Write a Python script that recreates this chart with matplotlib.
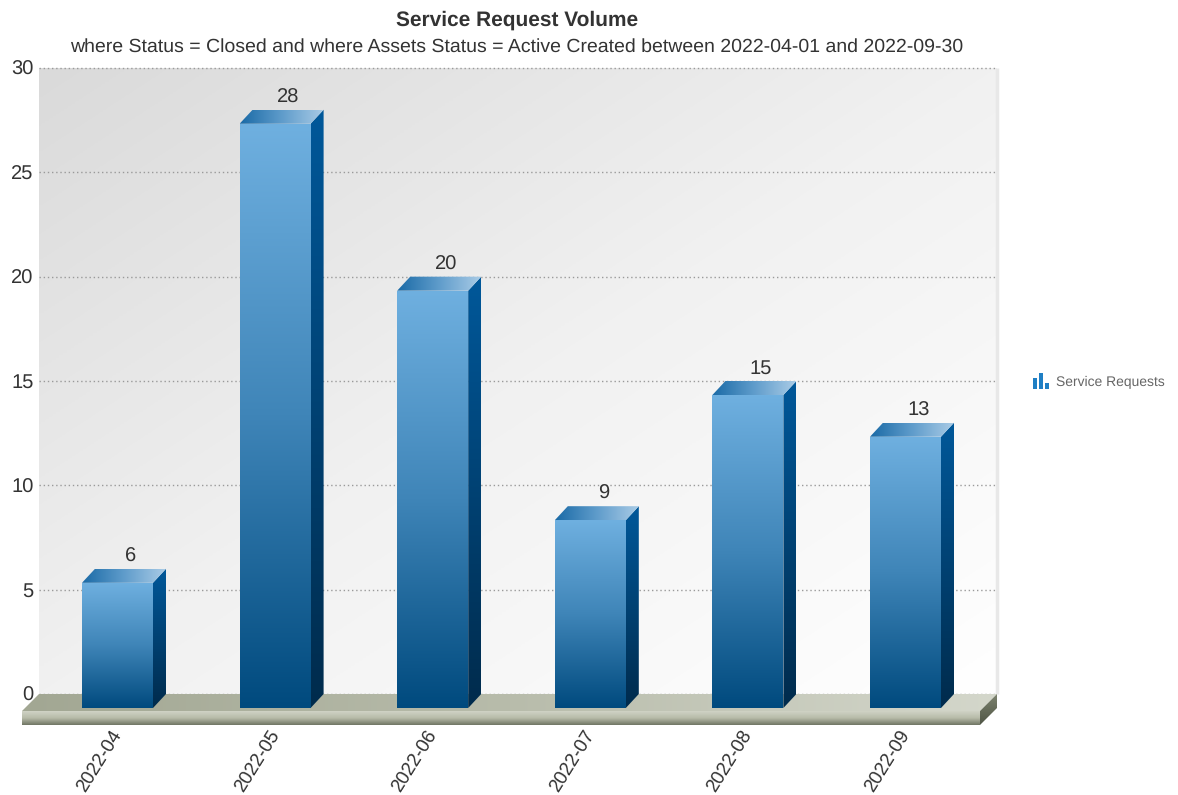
from __future__ import annotations

import numpy as np
import matplotlib

matplotlib.use("Agg")
import matplotlib.pyplot as plt
from matplotlib.colors import LinearSegmentedColormap
from matplotlib.patches import Polygon, Rectangle

months = ["2022-04", "2022-05", "2022-06", "2022-07", "2022-08", "2022-09"]
service_requests = [6, 28, 20, 9, 15, 13]
y_ticks = [0, 5, 10, 15, 20, 25, 30]

W, H = 1178, 795
PX_X = 157.6  # pixels per category
PX_Y = 626 / 30  # pixels per request
DEPTH_X = 13 / PX_X
DEPTH_Y = 14 / PX_Y
BAR_W = 71 / PX_X

plt.rcParams["font.family"] = ["Liberation Sans", "DejaVu Sans"]
plt.rcParams["text.hinting"] = "no_hinting"

fig = plt.figure(figsize=(W / 100, H / 100), dpi=100, facecolor="white")
ax = fig.add_axes([39 / W, 1 - 694 / H, 958 / W, 626 / H])
ax.set_xlim((39 - 117.5) / PX_X, (997 - 117.5) / PX_X)
ax.set_ylim(0, 30)
xlim = ax.get_xlim()


def gradient_poly(points, colors, direction="v", zorder=2):
    pts = np.array(points, dtype=float)
    x0, x1 = pts[:, 0].min(), pts[:, 0].max()
    y0, y1 = pts[:, 1].min(), pts[:, 1].max()
    cmap = LinearSegmentedColormap.from_list("g", colors)
    u, v = np.meshgrid(np.linspace(0, 1, 256), np.linspace(0, 1, 256))
    t = {"v": v, "h": u, "d": (u + v) / 2}[direction]
    im = ax.imshow(
        t,
        cmap=cmap,
        vmin=0,
        vmax=1,
        origin="upper",
        extent=(x0, x1, y0, y1),
        aspect="auto",
        zorder=zorder,
        interpolation="bilinear",
    )
    im.set_clip_box(fig.bbox)
    im.set_clip_path(Polygon(pts, closed=True, transform=ax.transData))
    return im


# back wall
gradient_poly(
    [(xlim[0], 0), (xlim[1], 0), (xlim[1], 30), (xlim[0], 30)],
    ["#dadada", "#f1f1f1", "#ffffff"],
    direction="d",
    zorder=0,
)
ax.plot([xlim[1], xlim[1]], [0, 30], color="#e8e8e8", lw=2.5, zorder=1, clip_on=False,
        solid_capstyle="butt")
for t in y_ticks:
    ax.plot(xlim, [t, t], color="#9a9a9a", lw=1, ls=(0, (1, 2)), zorder=1, clip_on=False)

# floor slab
floor_dx = 17 / PX_X
floor_dy = 17 / PX_Y
floor_h = 14 / PX_Y
fl, fr = xlim[0] - floor_dx, xlim[1] - floor_dx
gradient_poly(
    [(fl, -floor_dy), (fr, -floor_dy), (xlim[1], 0), (xlim[0], 0)],
    ["#a2a793", "#b8bcab", "#d4d7cb"],
    direction="h",
    zorder=1.5,
)
gradient_poly(
    [(fl, -floor_dy), (fr, -floor_dy), (fr, -floor_dy - floor_h), (fl, -floor_dy - floor_h)],
    ["#d0d3c6", "#b7bba8", "#6f7563"],
    direction="v",
    zorder=1.5,
)
gradient_poly(
    [(fr, -floor_dy), (xlim[1], 0), (xlim[1], -floor_h), (fr, -floor_dy - floor_h)],
    ["#7d836f", "#4f5545"],
    direction="v",
    zorder=1.5,
)

# bars, the back face sits on the value and the front face is shifted by the depth
x = np.arange(len(months))
for i, v in zip(x, service_requests):
    left = i - BAR_W / 2
    right = i + BAR_W / 2
    gradient_poly(
        [(left, v - DEPTH_Y), (right, v - DEPTH_Y), (right, -DEPTH_Y), (left, -DEPTH_Y)],
        ["#6fb0e0", "#3f85b8", "#004a7e"],
        direction="v",
        zorder=3,
    )
    gradient_poly(
        [
            (right, v - DEPTH_Y),
            (right + DEPTH_X, v),
            (right + DEPTH_X, 0),
            (right, -DEPTH_Y),
        ],
        ["#00589a", "#002b4c"],
        direction="v",
        zorder=3,
    )
    gradient_poly(
        [
            (left, v - DEPTH_Y),
            (right, v - DEPTH_Y),
            (right + DEPTH_X, v),
            (left + DEPTH_X, v),
        ],
        ["#1a6aa6", "#5f9ccb", "#a9cbe6"],
        direction="h",
        zorder=3,
    )
    ax.annotate(
        str(v),
        (i + DEPTH_X, v),
        xytext=(0, 2.3),
        textcoords="offset points",
        ha="center",
        va="bottom",
        fontsize=14.5,
        color="#333333",
        zorder=4,
    )

ax.set_xticks(x)
ax.set_xticklabels(months, rotation=58, ha="right", va="center", rotation_mode="anchor")
ax.set_yticks(y_ticks)
ax.tick_params(axis="x", length=0, pad=27, labelsize=13.6, labelcolor="#333333")
ax.tick_params(axis="y", length=0, pad=4, labelsize=14.5, labelcolor="#333333")
for spine in ax.spines.values():
    spine.set_visible(False)

fig.text(517.5 / W, 1 - 20 / H, "Service Request Volume", ha="center", va="center",
         fontsize=15, fontweight="bold", color="#333333")
fig.text(517 / W, 1 - 47 / H,
         "where Status = Closed and where Assets Status = Active Created between 2022-04-01 and 2022-09-30",
         ha="center", va="center", fontsize=14, color="#333333")

# legend
for bx, by, bw, bh in [(1033, 378, 4, 11), (1039, 373, 4, 16), (1045, 383, 4, 6)]:
    fig.add_artist(Rectangle((bx / W, 1 - (by + bh) / H), bw / W, bh / H,
                             transform=fig.transFigure, color="#1f7fc4", lw=0))
fig.text(1056 / W, 1 - 382.5 / H, "Service Requests", ha="left", va="center",
         fontsize=10, color="#666666")

fig.savefig("out.png", dpi=100)
plt.close(fig)
